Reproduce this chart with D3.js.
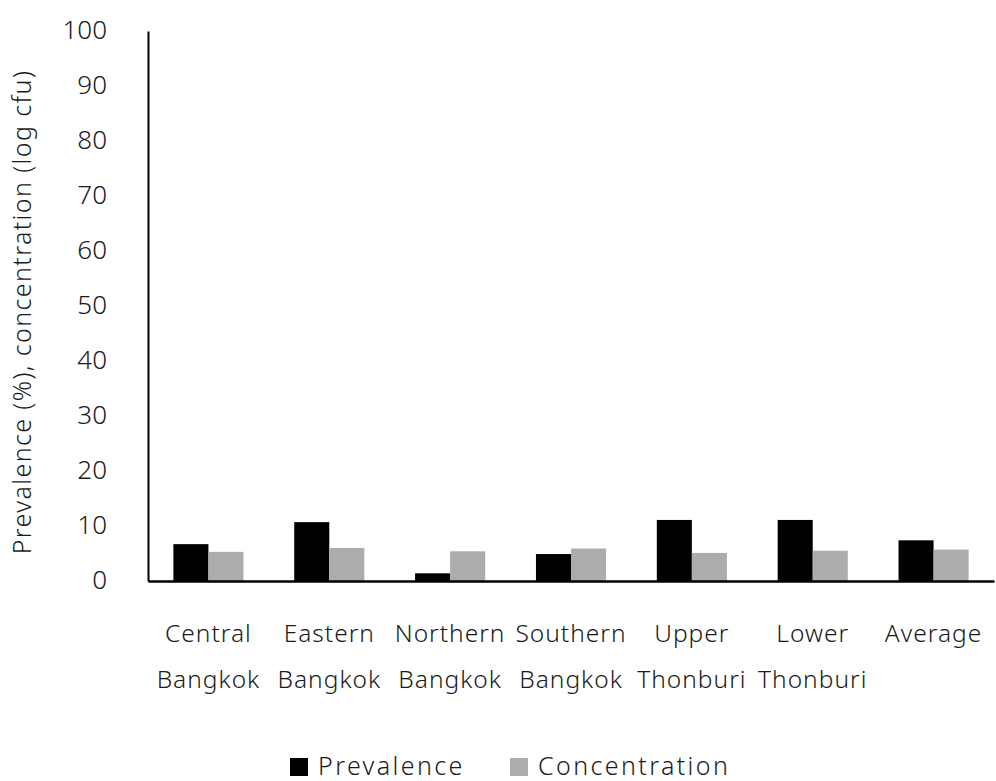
<!DOCTYPE html>
<html>
<head>
<meta charset="utf-8">
<script src="https://cdn.jsdelivr.net/npm/d3@7"></script>
<style>
  html, body { margin: 0; padding: 0; background: #fff; }
  svg { display: block; }
  text { font-family: "Noto Sans", sans-serif; font-weight: 300; fill: #1a1a1a; }
</style>
</head>
<body>
<svg id="chart" width="996" height="781"></svg>
<script>
// Region names (two lines each) and the two measured series
const categories = [
  ["Central", "Bangkok"],
  ["Eastern", "Bangkok"],
  ["Northern", "Bangkok"],
  ["Southern", "Bangkok"],
  ["Upper", "Thonburi"],
  ["Lower", "Thonburi"],
  ["Average", ""]
];
const prevalence    = [6.7, 10.7, 1.4, 4.9, 11.1, 11.1, 7.4];
const concentration = [5.3, 6.0, 5.4, 5.9, 5.1, 5.5, 5.7];
const seriesNames   = ["Prevalence", "Concentration"];
const seriesColors  = ["#000000", "#aeabab"];
const yTicks        = [0, 10, 20, 30, 40, 50, 60, 70, 80, 90, 100];

const svg = d3.select("#chart");
const W = 996;
const x0 = 148, x1 = W - 2;
const yBase = 581, yTop = 31;

const keys = categories.map((c, i) => i);
const x = d3.scaleBand().domain(keys).range([x0, x1]).paddingInner(0.42).paddingOuter(0.21);
const xs = d3.scaleBand().domain([0, 1]).range([0, x.bandwidth()]);
const y = d3.scaleLinear().domain([0, 100]).range([yBase, yTop]);

const series = [prevalence, concentration];

// bars
series.forEach((vals, s) => {
  svg.append("g").selectAll("rect")
    .data(vals)
    .join("rect")
    .attr("x", (d, i) => x(i) + xs(s))
    .attr("y", d => y(d))
    .attr("width", xs.bandwidth())
    .attr("height", d => yBase - y(d))
    .attr("fill", seriesColors[s]);
});

// y axis
const yAxis = d3.axisLeft(y).tickValues(yTicks).tickSize(0).tickPadding(41);
const gy = svg.append("g").attr("transform", `translate(${x0},0)`).call(yAxis);
gy.select(".domain").attr("stroke", "#000").attr("stroke-width", 2);
gy.selectAll(".tick text")
  .attr("font-size", 26)
  .attr("font-family", "'Noto Sans', sans-serif")
  .attr("font-weight", 300)
  .attr("fill", "#1a1a1a")
  .attr("dy", "0.28em");

// x axis baseline
const xAxis = d3.axisBottom(x).tickSize(0).tickFormat("");
const gx = svg.append("g").attr("transform", `translate(0,${yBase})`).call(xAxis);
gx.select(".domain").attr("stroke", "#000").attr("stroke-width", 2.5);

// category labels, two lines
const labels = svg.append("g");
categories.forEach((lines, i) => {
  const cx = x(i) + x.bandwidth() / 2;
  lines.forEach((t, j) => {
    if (!t) return;
    labels.append("text")
      .attr("x", cx)
      .attr("y", 642 + j * 46)
      .attr("text-anchor", "middle")
      .attr("font-size", 24.5)
      .attr("letter-spacing", 1)
      .text(t);
  });
});

// y axis title
svg.append("text")
  .attr("transform", `translate(31,${(yTop + yBase) / 2 + 6}) rotate(-90)`)
  .attr("text-anchor", "middle")
  .attr("font-size", 25)
  .attr("letter-spacing", 1.4)
  .text("Prevalence (%), concentration (log cfu)");

// legend
const legend = svg.append("g");
const legendX = [290, 510];
seriesNames.forEach((name, s) => {
  legend.append("rect")
    .attr("x", legendX[s]).attr("y", 758)
    .attr("width", 18).attr("height", 18)
    .attr("fill", seriesColors[s]);
  legend.append("text")
    .attr("x", legendX[s] + 28).attr("y", 775)
    .attr("font-size", 25)
    .attr("letter-spacing", 2.4)
    .text(name);
});
</script>
</body>
</html>
